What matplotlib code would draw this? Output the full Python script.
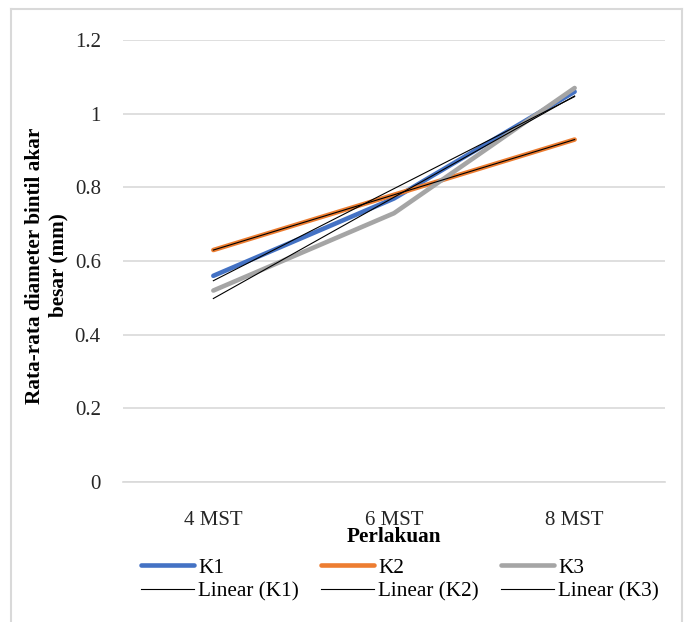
import numpy as np
import matplotlib.pyplot as plt
from matplotlib.lines import Line2D

plt.rcParams['font.family'] = ['Liberation Serif', 'DejaVu Serif']

# Rata-rata diameter bintil akar besar (mm) per umur tanaman
perlakuan = ['4 MST', '6 MST', '8 MST']
k1 = [0.56, 0.77, 1.06]
k2 = [0.63, 0.78, 0.93]
k3 = [0.52, 0.73, 1.07]

series = [('K1', k1, '#4472C4'), ('K2', k2, '#ED7D31'), ('K3', k3, '#A5A5A5')]

fig = plt.figure(figsize=(6.97, 6.22), dpi=100)
ax = fig.add_axes([0.1765, 0.225, 0.7775, 0.7105])

x = np.arange(len(perlakuan))
handles = []
for name, vals, col in series:
    h, = ax.plot(x, vals, color=col, lw=3.3, solid_capstyle='round', label=name, zorder=3)
    # garis tren linear seperti trendline Excel
    m, c = np.polyfit(x + 1, vals, 1)
    xt = np.array([x[0], x[-1]])
    ht, = ax.plot(xt, m * (xt + 1) + c, color='black', lw=0.8, label=f'Linear ({name})', zorder=4)
    handles += [h, ht]

ax.set_xlim(-0.5, 2.5)
ax.set_ylim(0, 1.2)
ax.set_yticks(np.arange(0, 1.21, 0.2))
ax.set_yticklabels(['0', '0.2', '0.4', '0.6', '0.8', '1', '1.2'])
ax.set_xticks(x)
ax.set_xticklabels(perlakuan)
ax.tick_params(axis='both', length=0, labelsize=15, colors='#262626')
ax.tick_params(axis='y', pad=16)
ax.tick_params(axis='x', pad=21)
ax.grid(axis='y', color='#d9d9d9', lw=1.2)
ax.set_axisbelow(True)
for s in ['top', 'right', 'left']:
    ax.spines[s].set_visible(False)
ax.spines['bottom'].set_color('#d9d9d9')
ax.spines['bottom'].set_linewidth(1.2)

ax.set_xlabel('Perlakuan', fontsize=15.3, fontweight='bold', labelpad=-2)
ax.set_ylabel('Rata-rata diameter bintil akar\nbesar (mm)', fontsize=15.3,
              fontweight='bold', linespacing=1.25)
ax.yaxis.set_label_coords(-0.1, 0.49)

fig.legend(handles=handles, loc='center', bbox_to_anchor=(0.574, 0.068), ncol=3,
           frameon=False, fontsize=15.3, handlelength=2.5, handletextpad=0.19,
           columnspacing=1.04, labelspacing=0.18, borderpad=0.2)

# bingkai area grafik
border = dict(color='#d9d9d9', lw=1.5, transform=fig.transFigure)
fig.add_artist(Line2D([0.016, 0.016], [0.0, 0.986], **border))
fig.add_artist(Line2D([0.016, 0.979], [0.986, 0.986], **border))
fig.add_artist(Line2D([0.979, 0.979], [0.0, 0.986], **border))

fig.savefig('out.png', dpi=100, facecolor='white')
